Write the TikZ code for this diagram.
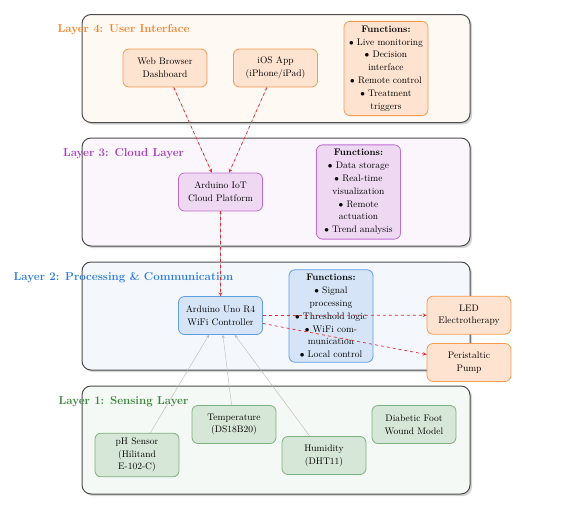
\documentclass[tikz,border=0pt]{standalone}
\usepackage{amsmath,amssymb}
\usepackage{xcolor}
\usepackage{tikz}
\usetikzlibrary{shapes,arrows,positioning,shadows,backgrounds}

\definecolor{uiorange}{RGB}{245,130,40}
\definecolor{cloudpurple}{RGB}{170,60,190}
\definecolor{procblue}{RGB}{45,125,215}
\definecolor{sensegreen}{RGB}{55,135,55}
\definecolor{ctrlred}{RGB}{235,40,50}

\begin{document}
\begin{tikzpicture}[x=1pt, y=1pt,
    font=\fontsize{9.5}{12.8}\selectfont,
    box/.style={rectangle, rounded corners=6pt, draw, line width=0.8pt, minimum width=84pt, minimum height=38pt, inner sep=4.5pt, align=center},
    uibox/.style={box, fill=uiorange!22, draw=uiorange!80},
    cloudbox/.style={box, fill=cloudpurple!20, draw=cloudpurple!75},
    procbox/.style={box, fill=procblue!20, draw=procblue!75},
    sensebox/.style={box, fill=sensegreen!20, draw=sensegreen!65},
    layer/.style={rectangle, rounded corners=9pt, draw=black!70, line width=1pt, minimum width=388pt, minimum height=108pt, drop shadow={shadow xshift=2pt, shadow yshift=-2pt, opacity=0.35}},
    title/.style={font=\fontsize{11.5}{13}\selectfont\bfseries},
    data/.style={->, >=stealth, gray!55, thin},
    ctrl/.style={->, >=stealth, ctrlred, dashed, line width=0.7pt}
]
    \useasboundingbox (0,0) rectangle (584,-512);

    % Layer boxes
    \node[layer, fill=uiorange!5] (layer4) at (276,-68.5) {};
    \node[layer, fill=cloudpurple!5] (layer3) at (276,-192) {};
    \node[layer, fill=procblue!5] (layer2) at (276,-316) {};
    \node[layer, fill=sensegreen!5] (layer1) at (276,-440) {};

    \node[title, text=uiorange] (title4) at (123.5,-30) {Layer 4: User Interface};
    \node[title, text=cloudpurple] (title3) at (123.5,-154) {Layer 3: Cloud Layer};
    \node[title, text=procblue] (title2) at (123.5,-278) {Layer 2: Processing \& Communication};
    \node[title, text=sensegreen] (title1) at (123.5,-402) {Layer 1: Sensing Layer};

    % User Interface
    \node[uibox] (web) at (165,-68) {Web Browser\\Dashboard};
    \node[uibox] (ios) at (275.5,-68) {iOS App\\(iPhone/iPad)};
    \node[uibox] (fun4) at (386,-68.5) {\textbf{Functions:}\\$\bullet$ Live monitoring\\$\bullet$ Decision\\interface\\$\bullet$ Remote control\\$\bullet$ Treatment\\triggers};

    % Cloud Layer
    \node[cloudbox] (iot) at (220.5,-192) {Arduino IoT\\Cloud Platform};
    \node[cloudbox] (fun3) at (358.5,-192) {\textbf{Functions:}\\$\bullet$ Data storage\\$\bullet$ Real-time\\visualization\\$\bullet$ Remote\\actuation\\$\bullet$ Trend analysis};

    % Processing & Communication
    \node[procbox] (uno) at (220.5,-315.5) {Arduino Uno R4\\WiFi Controller};
    \node[procbox] (fun2) at (331,-316) {\textbf{Functions:}\\$\bullet$ Signal\\processing\\$\bullet$ Threshold logic\\$\bullet$ WiFi com-\\munication\\$\bullet$ Local control};
    \node[uibox] (led) at (469,-315.2) {LED\\Electrotherapy};
    \node[uibox] (pump) at (469,-362.5) {Peristaltic\\Pump};

    % Sensing Layer
    \node[sensebox] (ph) at (137,-455) {pH Sensor\\(Hilitand\\E-102-C)};
    \node[sensebox] (temp) at (234,-424.5) {Temperature\\(DS18B20)};
    \node[sensebox] (hum) at (324,-455.5) {Humidity\\(DHT11)};
    \node[sensebox] (foot) at (414,-424.5) {Diabetic Foot\\Wound Model};

    % Data flow
    \draw[data] (ph) -- (uno);
    \draw[data] (temp) -- (uno);
    \draw[data] (hum) -- (uno);
    \draw[data] (uno) -- (iot);
    \draw[data] (iot) -- (web);
    \draw[data] (iot) -- (ios);

    % Control flow
    \draw[ctrl] (web) -- (iot);
    \draw[ctrl] (ios) -- (iot);
    \draw[ctrl] (iot) -- (uno);
    \draw[ctrl] (uno) -- (led);
    \draw[ctrl] (uno) -- (pump);

\end{tikzpicture}
\end{document}
